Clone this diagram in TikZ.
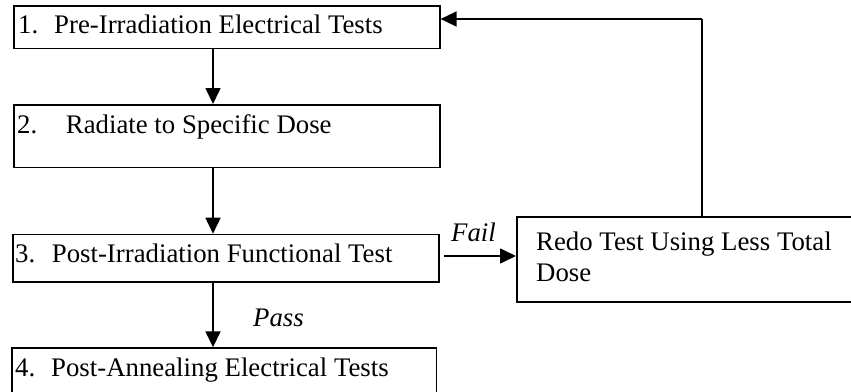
\documentclass[tikz,border=0pt]{standalone}
\usepackage{fontspec}
\setmainfont{Liberation Serif}
\usetikzlibrary{arrows.meta}
\begin{document}
\begin{tikzpicture}[x=1pt,y=-1pt,
  box/.style={draw, line width=1.6pt, rectangle, inner sep=0pt},
  txt/.style={anchor=base west, inner sep=0pt, font=\fontsize{26.8}{31}\selectfont},
  lbl/.style={anchor=base west, inner sep=0pt, font=\fontsize{26.8}{31}\selectfont\itshape},
  arr/.style={line width=1.6pt, -{Triangle[length=16pt, width=15pt]}}]
\path[use as bounding box, clip] (0,0) rectangle (851,391);
% boxes
\node[box, minimum width=425.7pt, minimum height=42.7pt, anchor=north west] (b1) at (13.3,5) {};
\node[box, minimum width=425.7pt, minimum height=62.7pt, anchor=north west] (b2) at (13.3,104) {};
\node[box, minimum width=426pt, minimum height=47.6pt, anchor=north west] (b3) at (12,233.7) {};
\node[box, minimum width=424.5pt, minimum height=60pt, anchor=north west] (b4) at (11,347.3) {};
\node[box, minimum width=360pt, minimum height=85pt, anchor=north west] (redo) at (516,216) {};
% texts
\node[txt] (t1) at (18,33.3) {\makebox[36pt][l]{1.}Pre-Irradiation Electrical Tests};
\node[txt] (t2) at (17,133.3) {\makebox[48.7pt][l]{2.}Radiate to Specific Dose};
\node[txt] (t3) at (15,262.3) {\makebox[36.7pt][l]{3.}Post-Irradiation Functional Test};
\node[txt] (t4) at (15,376) {\makebox[36pt][l]{4.}Post-Annealing Electrical Tests};
\node[txt] (r1) at (536,250.5) {Redo Test Using Less Total};
\node[txt] (r2) at (536,281.5) {Dose};
\node[lbl] (fail) at (451,241.7) {Fail};
\node[lbl] (pass) at (253,326.7) {Pass};
% helper coordinates
\coordinate (col) at (213,0);
\coordinate (fb) at (702,19);
\coordinate (fr) at (0,256);
% connectors
\draw[arr] (b1.south -| col) -- (b2.north -| col);
\draw[arr] (b2.south -| col) -- (b3.north -| col);
\draw[arr] (b3.south -| col) -- (b4.north -| col);
\draw[arr, shorten <=4.3pt] (b3.east |- fr) -- (redo.west |- fr);
\draw[line width=1.6pt] (redo.north -| fb) -- (fb);
\draw[arr] (fb) -- (b1.east |- fb);
\end{tikzpicture}
\end{document}
